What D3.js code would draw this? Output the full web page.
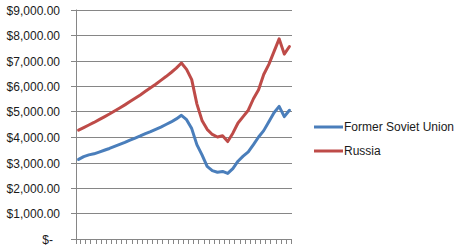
<!DOCTYPE html>
<html>
<head>
<meta charset="utf-8">
<script src="https://cdn.jsdelivr.net/npm/d3@7"></script>
<style>
  body { margin: 0; background: #fff; }
  text { font-family: "Liberation Sans", Arial, sans-serif; fill: #1a1a1a; }
</style>
</head>
<body>
<div id="chart"></div>
<script>
////////////////////////////////// DATA //////////////////////////////////
// one point per year, 1969 - 2010 (no labels shown on the axis)
var years = d3.range(1969, 2011);

var fsuValues = [3120, 3230, 3300, 3340, 3410, 3480, 3550, 3630, 3710, 3790,
  3880, 3960, 4040, 4130, 4210, 4300, 4390, 4490, 4590, 4710,
  4850, 4680, 4330, 3700, 3300, 2850, 2680, 2620, 2650, 2570,
  2760, 3050, 3250, 3420, 3700, 4000, 4250, 4600, 4950, 5200,
  4800, 5050];

var russiaValues = [4270, 4370, 4470, 4570, 4680, 4790, 4900, 5020, 5140, 5260,
  5390, 5520, 5650, 5790, 5930, 6070, 6220, 6370, 6530, 6700,
  6900, 6650, 6250, 5300, 4650, 4300, 4100, 4000, 4050, 3820,
  4150, 4550, 4800, 5050, 5500, 5850, 6450, 6850, 7350, 7850,
  7250, 7550];

var seriesNames = ["Former Soviet Union", "Russia"];
var yTicks = [0, 1000, 2000, 3000, 4000, 5000, 6000, 7000, 8000, 9000];

////////////////////////////////// D3 //////////////////////////////////
function drawChart() {

  // Settings
  var width = 463;
  var height = 249;
  var left = 76, right = 292, top = 9.5, bottom = 239;
  var colors = ["#4A7EBB", "#BE4B48"];
  var gridColor = "#868686";

  var svg = d3.select('#chart')
    .append('svg')
    .attr('width', width)
    .attr('height', height);

  var x = d3.scaleBand()
    .domain(years)
    .range([left, right]);

  var y = d3.scaleLinear()
    .domain([0, 9000])
    .range([bottom, top]);

  var money = d3.format("$,.2f");

  // gridlines + left tick marks
  svg.selectAll('.grid')
    .data(yTicks)
    .enter()
    .append('line')
    .attr('class', 'grid')
    .attr('x1', left - 5)
    .attr('x2', right)
    .attr('y1', function(d) { return Math.round(y(d)) + 0.5; })
    .attr('y2', function(d) { return Math.round(y(d)) + 0.5; })
    .attr('stroke', gridColor)
    .attr('stroke-width', 1);

  // y labels
  svg.selectAll('.ylab')
    .data(yTicks)
    .enter()
    .append('text')
    .attr('class', 'ylab')
    .attr('x', function(d) { return d === 0 ? 53 : 60; })
    .attr('y', function(d) { return Math.round(y(d)) + 0.5; })
    .attr('dy', '0.35em')
    .attr('text-anchor', 'end')
    .style('font-size', '12px')
    .text(function(d) { return d === 0 ? "$-" : money(d); });

  // vertical axis
  svg.append('line')
    .attr('x1', left + 0.5).attr('x2', left + 0.5)
    .attr('y1', top).attr('y2', bottom + 5)
    .attr('stroke', gridColor);

  // category tick marks (between categories)
  var tickPos = years.map(function(d) { return x(d); }).concat([right]);
  svg.selectAll('.xtick')
    .data(tickPos.slice(1))
    .enter()
    .append('line')
    .attr('class', 'xtick')
    .attr('x1', function(d) { return Math.round(d) - 0.5; })
    .attr('x2', function(d) { return Math.round(d) - 0.5; })
    .attr('y1', bottom)
    .attr('y2', bottom + 5)
    .attr('stroke', gridColor);

  // lines
  var line = d3.line()
    .x(function(d, i) { return x(years[i]) + x.bandwidth() / 2; })
    .y(function(d) { return y(d); });

  [fsuValues, russiaValues].forEach(function(vals, i) {
    svg.append('path')
      .datum(vals)
      .attr('d', line)
      .attr('fill', 'none')
      .attr('stroke', colors[i])
      .attr('stroke-width', 3)
      .attr('stroke-linejoin', 'round')
      .attr('stroke-linecap', 'round');
  });

  // legend
  var legend = svg.selectAll('.leg')
    .data(seriesNames)
    .enter()
    .append('g')
    .attr('class', 'leg')
    .attr('transform', function(d, i) { return 'translate(314,' + (127 + i * 24) + ')'; });

  legend.append('line')
    .attr('x1', 0).attr('x2', 29)
    .attr('stroke', function(d, i) { return colors[i]; })
    .attr('stroke-width', 3);

  legend.append('text')
    .attr('x', 30)
    .attr('dy', '0.35em')
    .style('font-size', '12px')
    .text(function(d) { return d; });
}

drawChart();
////////////////////////////////// D3 - END //////////////////////////////////
</script>
</body>
</html>
